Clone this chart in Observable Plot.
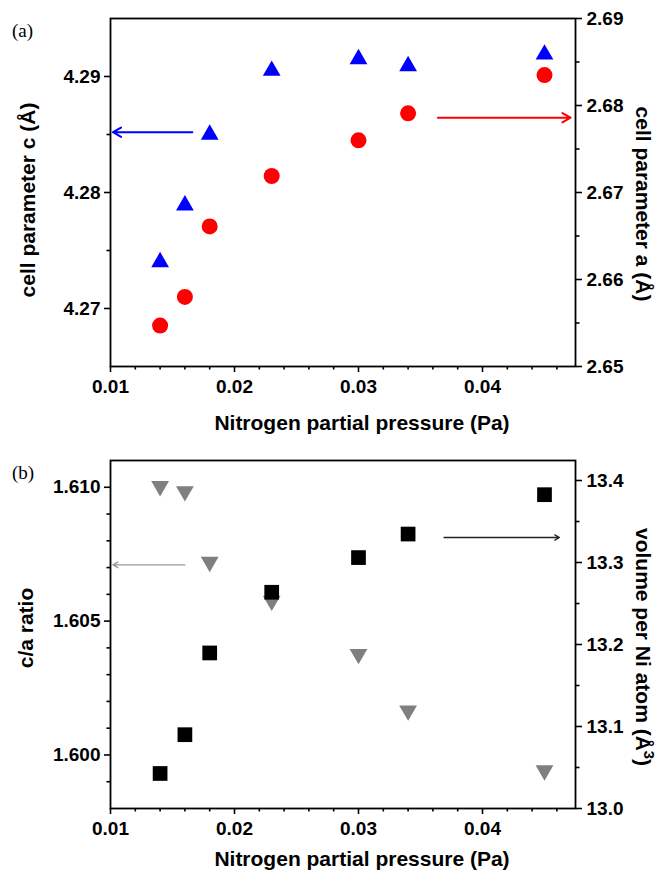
<!DOCTYPE html>
<html><head><meta charset="utf-8">
<script src="https://cdn.jsdelivr.net/npm/d3@7"></script>
<script src="https://cdn.jsdelivr.net/npm/@observablehq/plot@0.6"></script>
<style>
html,body{margin:0;padding:0;background:#fff;}
#wrap{position:relative;width:666px;height:873px;overflow:hidden;background:#fff;font-family:'Liberation Sans',Arial,sans-serif;color:#000;}
#wrap svg{position:absolute;left:0;background:transparent !important;font:bold 19px 'Liberation Sans',Arial,sans-serif !important;max-width:none !important;}
.lab{position:absolute;font-weight:bold;font-size:21px;white-space:nowrap;transform:translate(-50%,-50%);line-height:1;}
.rotL{transform:translate(-50%,-50%) rotate(-90deg);}
.rotR{transform:translate(-50%,-50%) rotate(90deg);}
.pan{position:absolute;font-family:'Liberation Serif','Times New Roman',serif;font-size:19px;line-height:1;}
sup{font-size:0.7em;vertical-align:0.55em;line-height:0;}
</style></head>
<body>
<div id="wrap"></div>
<script>
// ---- data ----
const pressure = [0.014, 0.016, 0.018, 0.023, 0.030, 0.034, 0.045];
const cParam   = [4.2740, 4.2789, 4.2850, 4.2905, 4.2915, 4.2909, 4.2919];
const aParam   = [2.6547, 2.6580, 2.6661, 2.6719, 2.6760, 2.6791, 2.6835];
const caRatio  = [1.61004, 1.60985, 1.60721, 1.60576, 1.60377, 1.60166, 1.59942];
const volume   = [13.0427, 13.0900, 13.1897, 13.2637, 13.3060, 13.3347, 13.3827];

const xMajor = [0.01, 0.02, 0.03, 0.04];
const xMinor = [0.012, 0.014, 0.016, 0.018, 0.022, 0.024, 0.026, 0.028, 0.032, 0.034, 0.036, 0.038, 0.042, 0.044, 0.046];
const cMajor = [4.27, 4.28, 4.29];
const cMinor = [4.275, 4.285];
const aMajor = [2.65, 2.66, 2.67, 2.68, 2.69];
const aMinor = [2.655, 2.665, 2.675, 2.685];
const caMajor = [1.600, 1.605, 1.610];
const caMinor = [1.599, 1.601, 1.602, 1.603, 1.604, 1.606, 1.607, 1.608, 1.609];
const volMajor = [13.0, 13.1, 13.2, 13.3, 13.4];
const volMinor = [13.05, 13.15, 13.25, 13.35];

// arrows: [from x, to x], at y level
const arrowCX = [0.0166, 0.0102], arrowCY = 4.2852;
const arrowAX = [0.0364, 0.0471], arrowAY = 2.6786;
const arrowCaX = [0.0160, 0.0102], arrowCaY = 1.6071;
const arrowVolX = [0.0369, 0.0462], arrowVolY = 13.3305;

const xDomain = [0.01, 0.0475];
const rows = (ys) => pressure.map((p, i) => ({p, v: ys[i]}));
const fmt2 = d3.format(".2f"), fmt3 = d3.format(".3f"), fmt1 = d3.format(".1f");
const wrap = document.getElementById("wrap");

function panel({top, height, mt, mb, leftDomain, rightDomain, leftMajor, leftMinor, leftFmt,
                rightMajor, rightMinor, rightFmt, leftMarks, rightMarks}) {
  const common = {width: 666, height, marginLeft: 110, marginRight: 91, marginTop: mt, marginBottom: mb};
  const A = Plot.plot({
    ...common,
    x: {domain: xDomain},
    y: {domain: leftDomain},
    marks: [
      Plot.axisX(xMajor, {anchor: "bottom", tickSize: 6, tickPadding: 7, strokeWidth: 1.6, tickFormat: fmt2, label: null}),
      Plot.axisX(xMinor, {anchor: "bottom", tickSize: 3.5, strokeWidth: 1.6, tickFormat: () => "", label: null}),
      Plot.axisY(leftMajor, {anchor: "left", tickSize: 6, tickPadding: 4, strokeWidth: 1.6, tickFormat: leftFmt, label: null}),
      Plot.axisY(leftMinor, {anchor: "left", tickSize: 3.5, strokeWidth: 1.6, tickFormat: () => "", label: null}),
      Plot.frame({strokeWidth: 1.8}),
      ...leftMarks
    ]
  });
  const B = Plot.plot({
    ...common,
    x: {domain: xDomain, axis: null},
    y: {domain: rightDomain},
    marks: [
      Plot.axisY(rightMajor, {anchor: "right", tickSize: 6, tickPadding: 5, strokeWidth: 1.6, tickFormat: rightFmt, label: null}),
      Plot.axisY(rightMinor, {anchor: "right", tickSize: 3.5, strokeWidth: 1.6, tickFormat: () => "", label: null}),
      ...rightMarks
    ]
  });
  A.style.top = top + "px"; B.style.top = top + "px";
  wrap.appendChild(A); wrap.appendChild(B);
}

panel({
  top: 0, height: 436, mt: 18, mb: 70,
  leftDomain: [4.265, 4.295], rightDomain: [2.65, 2.69],
  leftMajor: cMajor, leftMinor: cMinor, leftFmt: fmt2,
  rightMajor: aMajor, rightMinor: aMinor, rightFmt: fmt2,
  leftMarks: [
    Plot.arrow([{x1: arrowCX[0], x2: arrowCX[1], y: arrowCY}], {x1: "x1", x2: "x2", y1: "y", y2: "y", stroke: "#0000ff", strokeWidth: 2, headLength: 7}),
    Plot.dot(rows(cParam), {x: "p", y: "v", symbol: "triangle", fill: "#0000ff", r: 6.6})
  ],
  rightMarks: [
    Plot.arrow([{x1: arrowAX[0], x2: arrowAX[1], y: arrowAY}], {x1: "x1", x2: "x2", y1: "y", y2: "y", stroke: "#ff0000", strokeWidth: 2, headLength: 7}),
    Plot.dot(rows(aParam), {x: "p", y: "v", symbol: "circle", fill: "#ff0000", r: 8})
  ]
});

panel({
  top: 436, height: 437, mt: 24, mb: 65,
  leftDomain: [1.598, 1.611], rightDomain: [13.0, 13.4244],
  leftMajor: caMajor, leftMinor: caMinor, leftFmt: fmt3,
  rightMajor: volMajor, rightMinor: volMinor, rightFmt: fmt1,
  leftMarks: [
    Plot.arrow([{x1: arrowCaX[0], x2: arrowCaX[1], y: arrowCaY}], {x1: "x1", x2: "x2", y1: "y", y2: "y", stroke: "#9a9a9a", strokeWidth: 1.4, headLength: 6}),
    Plot.dot(rows(caRatio), {x: "p", y: "v", symbol: "triangle", rotate: 180, fill: "#7f7f7f", r: 6.6})
  ],
  rightMarks: [
    Plot.arrow([{x1: arrowVolX[0], x2: arrowVolX[1], y: arrowVolY}], {x1: "x1", x2: "x2", y1: "y", y2: "y", stroke: "#222", strokeWidth: 1.3, headLength: 6}),
    Plot.dot(rows(volume), {x: "p", y: "v", symbol: "square", fill: "#000", r: 8.3})
  ]
});

function label(html, x, y, cls) {
  const d = document.createElement("div");
  d.className = cls;
  d.innerHTML = html;
  d.style.left = x + "px"; d.style.top = y + "px";
  wrap.appendChild(d);
}
label("(a)", 12, 21, "pan");
label("(b)", 12, 463, "pan");
label("Nitrogen partial pressure (Pa)", 362, 422, "lab");
label("Nitrogen partial pressure (Pa)", 362, 858, "lab");
label("cell parameter c (Å)", 27, 200, "lab rotL");
label("cell parameter a (Å)", 643, 204, "lab rotR");
label("c/a ratio", 25, 628, "lab rotL");
label("volume per Ni atom (Å<sup>3</sup>)", 643, 647, "lab rotR");
</script>
</body></html>
